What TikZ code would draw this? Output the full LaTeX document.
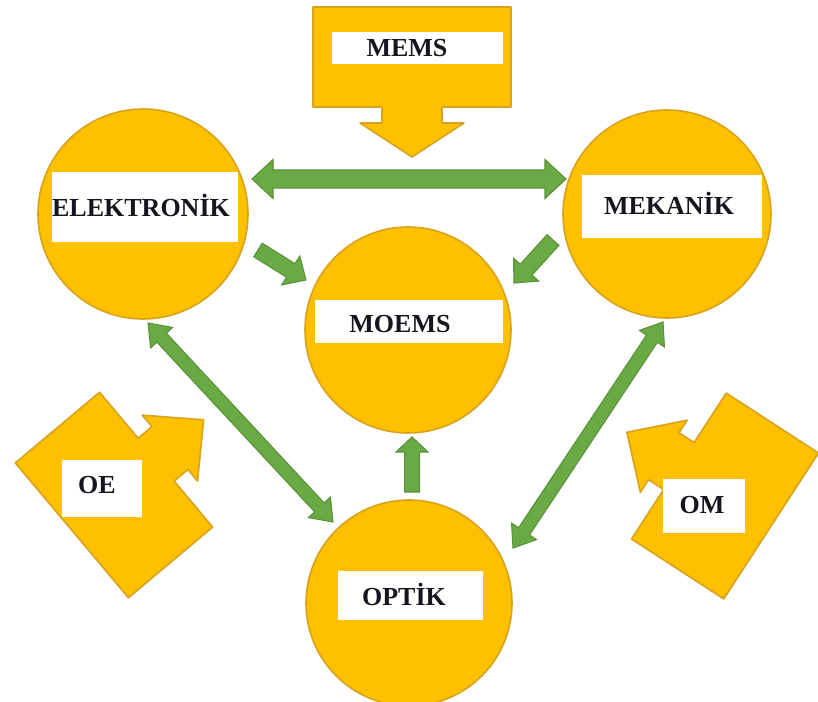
\documentclass[tikz,border=0pt]{standalone}
\usepackage{fontspec}
\setmainfont{Liberation Serif}
\usetikzlibrary{calc}
\definecolor{gold}{HTML}{FFC000}
\definecolor{goldline}{HTML}{D9A21B}
\definecolor{grn}{HTML}{6AAA45}
\definecolor{grnline}{HTML}{5A9138}
\definecolor{ink}{HTML}{15151F}
\tikzset{
  disk/.style={circle, draw=goldline, fill=gold, line width=1.2pt, inner sep=0pt},
  lblbox/.style={rectangle, fill=white, inner sep=0pt},
  txt/.style={font=\bfseries\fontsize{19.5}{21}\selectfont, text=ink, inner sep=0pt, anchor=base},
  goldshape/.style={draw=goldline, fill=gold, line width=1.2pt, line join=round},
  grnarrow/.style={draw=grnline, fill=grn, line width=0.8pt, line join=miter},
}
% single block arrow: #1 start, #2 tip, #3 shaft half, #4 head half, #5 head length
\newcommand\blockarrowone[5]{%
  \coordinate (tmpH) at ($(#2)!#5!(#1)$);
  \filldraw[grnarrow] ($(#1)!#3!90:(#2)$) -- ($(tmpH)!#3!90:(#2)$) -- ($(tmpH)!#4!90:(#2)$) -- (#2)
     -- ($(tmpH)!#4!-90:(#2)$) -- ($(tmpH)!#3!-90:(#2)$) -- ($(#1)!#3!-90:(#2)$) -- cycle;}
% double block arrow
\newcommand\blockarrowtwo[5]{%
  \coordinate (tmpA) at ($(#1)!#5!(#2)$);
  \coordinate (tmpB) at ($(#2)!#5!(#1)$);
  \filldraw[grnarrow] (#1) -- ($(tmpA)!#4!90:(#2)$) -- ($(tmpA)!#3!90:(#2)$) -- ($(tmpB)!#3!90:(#2)$)
     -- ($(tmpB)!#4!90:(#2)$) -- (#2) -- ($(tmpB)!#4!-90:(#2)$) -- ($(tmpB)!#3!-90:(#2)$)
     -- ($(tmpA)!#3!-90:(#2)$) -- ($(tmpA)!#4!-90:(#2)$) -- cycle;}
\begin{document}
\begin{tikzpicture}[x=0.75pt, y=-0.75pt]
\fill[white] (0,0) rectangle (818,702);
\useasboundingbox (0,0) rectangle (818,702);

% MEMS block arrow
\filldraw[goldshape] (313,7) -- (511,7) -- (511,107) -- (442,107) -- (442,123) -- (464,123)
  -- (412,157) -- (360,123) -- (382,123) -- (382,107) -- (313,107) -- cycle;
% OE block arrow
\begin{scope}[shift={(114,495)}, rotate=40]
  \filldraw[goldshape] (-55,-88) -- (55,-88) -- (55,-28) -- (73,-28) -- (73,-43) -- (117,0)
    -- (73,43) -- (73,28) -- (55,28) -- (55,88) -- (-55,88) -- cycle;
\end{scope}
% OM block arrow
\begin{scope}[shift={(725,496)}, rotate=147]
  \filldraw[goldshape] (-55,-87) -- (55,-87) -- (55,-28) -- (73,-28) -- (73,-43) -- (117,0)
    -- (73,43) -- (73,28) -- (55,28) -- (55,87) -- (-55,87) -- cycle;
\end{scope}

% circles
\node[disk, minimum size=157.5pt] (el) at (143,214) {};
\node[disk, minimum size=156pt] (mk) at (667,214) {};
\node[disk, minimum size=154.5pt] (mo) at (408,330) {};
\node[disk, minimum size=154.5pt] (op) at (409,603) {};

% label boxes
\node[lblbox, minimum width=128.25pt, minimum height=24pt] (bmems) at (417.5,48) {};
\node[lblbox, minimum width=139.5pt, minimum height=52.5pt] (bel) at (145,207) {};
\node[lblbox, minimum width=135pt, minimum height=47.25pt] (bmk) at (672,206.5) {};
\node[lblbox, minimum width=141pt, minimum height=32.25pt] (bmo) at (409,321.5) {};
\node[lblbox, minimum width=108.75pt, minimum height=36.75pt] (bop) at (410.5,595.5) {};
\node[lblbox, minimum width=60pt, minimum height=42.75pt] (boe) at (102,488.5) {};
\node[lblbox, minimum width=61.5pt, minimum height=40.5pt] (bom) at (704,506) {};

% texts
\node[txt] (tmems) at (407,57) {MEMS};
\node[txt] (tel) at (141,217) {ELEKTRONİK};
\node[txt] (tmk) at (669,215) {MEKANİK};
\node[txt] (tmo) at (400,333) {MOEMS};
\node[txt] (top) at (404,605) {OPTİK};
\node[txt] (toe) at (97,493) {OE};
\node[txt] (tom) at (702,513) {OM};

% green connector end points
\coordinate (h1) at ($(el)+(109,-35)$);
\coordinate (h2) at ($(mk)+(-101,-35)$);
\coordinate (e1) at ($(el)+(115,36)$);
\coordinate (e2) at ($(mo)+(-102,-50)$);
\coordinate (m1) at ($(mk)+(-114,26)$);
\coordinate (m2) at ($(mo)+(106,-47)$);
\coordinate (o1) at ($(op)+(3,-111)$);
\coordinate (o2) at ($(mo)+(4,107)$);
\coordinate (d1) at ($(el)+(5,109)$);
\coordinate (d2) at ($(op)+(-76,-81)$);
\coordinate (f1) at ($(mk)+(-4,108)$);
\coordinate (f2) at ($(op)+(104,-55)$);

\blockarrowtwo{h1}{h2}{6.75pt}{14.6pt}{15.75pt}
\blockarrowone{e1}{e2}{6pt}{12.75pt}{13.5pt}
\blockarrowone{m1}{m2}{6pt}{12.75pt}{13.5pt}
\blockarrowone{o1}{o2}{5.6pt}{12pt}{11.25pt}
\blockarrowtwo{d1}{d2}{4.9pt}{11.25pt}{15pt}
\blockarrowtwo{f1}{f2}{4.9pt}{11.25pt}{15pt}
\end{tikzpicture}
\end{document}
